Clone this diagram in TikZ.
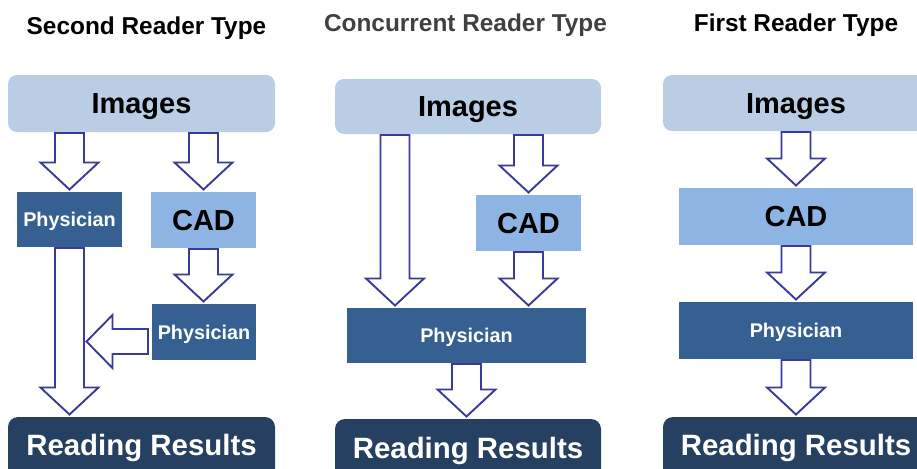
\documentclass[tikz,border=0pt]{standalone}
\usepackage{fontspec}
\setmainfont{Liberation Sans}
\usetikzlibrary{calc}
\definecolor{imgc}{HTML}{B9CDE5}
\definecolor{cadc}{HTML}{8DB4E2}
\definecolor{physc}{HTML}{376092}
\definecolor{readc}{HTML}{254061}
\definecolor{arrc}{HTML}{3A3A9C}
\definecolor{titlegray}{HTML}{404040}
\newcommand{\fs}[1]{\fontsize{#1}{#1}\selectfont\bfseries}
% vertical block arrow: #1 x reference, #2 source node, #3 target node
\newcommand{\vblk}[3]{%
  \path[blk] let \p1=(#1), \p2=(#2.south), \p3=(#3.north) in
   (\x1-14.5pt,\y2-1pt) -- (\x1+14.5pt,\y2-1pt) -- (\x1+14.5pt,\y3+29.5pt)
   -- (\x1+29pt,\y3+29.5pt) -- (\x1,\y3+2.5pt) -- (\x1-29pt,\y3+29.5pt)
   -- (\x1-14.5pt,\y3+29.5pt) -- cycle;}
\begin{document}
\begin{tikzpicture}[x=1pt,y=-1pt,
  blk/.style={draw=arrc,fill=white,line width=1.9pt,line join=miter},
  boxbase/.style={inner sep=0pt,outer sep=0pt},
  imgbox/.style={boxbase,fill=imgc,rounded corners=9pt,font=\fs{29},text height=20.8pt,text depth=0pt},
  cadbox/.style={boxbase,fill=cadc,font=\fs{29},text height=20.8pt,text depth=0pt},
  physbox/.style={boxbase,fill=physc,text=white,font=\fs{19.8},text height=14.2pt,text depth=0pt},
  readbox/.style={boxbase,fill=readc,rounded corners=10pt,anchor=north},
  readtxt/.style={inner sep=0pt,text=white,font=\fs{29.4},anchor=base},
  ttl/.style={inner sep=0pt,font=\fs{24.4},anchor=base}]
\useasboundingbox (0,0) rectangle (917,468);
\clip (0,0) rectangle (917,468);

% ---------- Panel 1: Second Reader Type ----------
\node[ttl] (t1) at (146.5,34.5) {Second Reader Type};
\node[imgbox,minimum width=267pt,minimum height=57pt] (img1) at (141.5,103.5) {Images};
\node[physbox,minimum width=105pt,minimum height=55pt] (phys1) at (69.5,219.5) {Physician};
\node[cadbox,minimum width=105pt,minimum height=56pt] (cad1) at (203.5,220) {CAD};
\node[physbox,minimum width=104pt,minimum height=56pt] (phys1b) at (204,332) {Physician};
\node[readbox,minimum width=267pt,minimum height=80pt] (rr1) at (141.5,417) {};
\node[readtxt] (rr1t) at (141.5,455) {Reading Results};

\vblk{phys1}{img1}{phys1}
\vblk{cad1}{img1}{cad1}
\vblk{cad1}{cad1}{phys1b}
\vblk{phys1}{phys1}{rr1}
\path[blk] let \p1=(phys1b.west), \p2=(phys1.center) in
  (\x1-4pt,\y1-22pt) -- (\x2+43pt,\y1-22pt) -- (\x2+43pt,\y1-36pt)
  -- (\x2+17pt,\y1-9.5pt) -- (\x2+43pt,\y1+17pt) -- (\x2+43pt,\y1+3pt)
  -- (\x1-4pt,\y1+3pt) -- cycle;

% ---------- Panel 2: Concurrent Reader Type ----------
\node[ttl,text=titlegray] (t2) at (465.5,32) {Concurrent Reader Type};
\node[imgbox,minimum width=266pt,minimum height=55pt] (img2) at (468,106.5) {Images};
\node[cadbox,minimum width=105pt,minimum height=56pt] (cad2) at (528.5,223) {CAD};
\node[physbox,minimum width=239pt,minimum height=55pt] (phys2) at (466.5,335.5) {Physician};
\node[readbox,minimum width=266pt,minimum height=80pt] (rr2) at (468,419) {};
\node[readtxt] (rr2t) at (468,458) {Reading Results};
\coordinate (c2l) at (395,0);

\vblk{c2l}{img2}{phys2}
\vblk{cad2}{img2}{cad2}
\vblk{cad2}{cad2}{phys2}
\vblk{phys2}{phys2}{rr2}

% ---------- Panel 3: First Reader Type ----------
\node[ttl] (t3) at (796,32) {First Reader Type};
\node[imgbox,minimum width=266pt,minimum height=56pt] (img3) at (796,103) {Images};
\node[cadbox,minimum width=234pt,minimum height=57pt] (cad3) at (796,216.5) {CAD};
\node[physbox,minimum width=234pt,minimum height=57pt] (phys3) at (796,330.5) {Physician};
\node[readbox,minimum width=266pt,minimum height=80pt] (rr3) at (796,417) {};
\node[readtxt] (rr3t) at (796,455) {Reading Results};

\vblk{img3}{img3}{cad3}
\vblk{cad3}{cad3}{phys3}
\vblk{phys3}{phys3}{rr3}
\end{tikzpicture}
\end{document}
